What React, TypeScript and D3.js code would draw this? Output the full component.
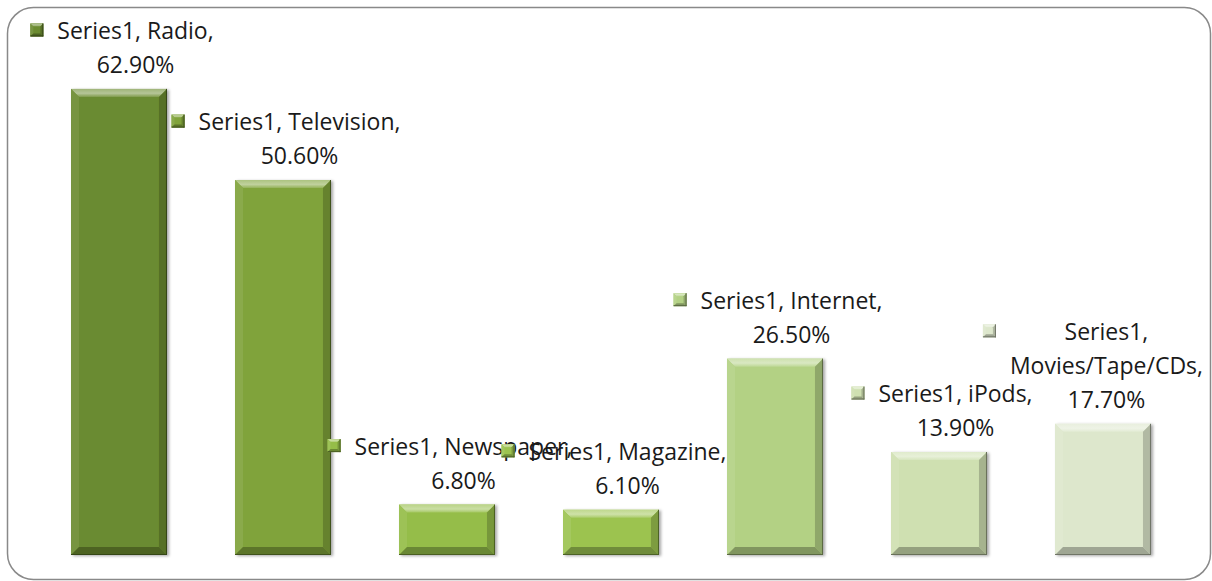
import React from "react";
import * as d3 from "d3";

const categories = ["Radio", "Television", "Newspaper", "Magazine", "Internet", "iPods", "Movies/Tape/CDs"];
const values = [62.9, 50.6, 6.8, 6.1, 26.5, 13.9, 17.7];
const seriesName = "Series1";
const barColors = ["#6b8b30", "#80a33b", "#95bd48", "#9cc350", "#b3d184", "#cfe0b1", "#dde7cc"];

const W = 1212;
const H = 581;
const FONT = '"Open Sans", "Noto Sans", sans-serif';
const FS = 23;
const LINE = 34;
const MARK = 13;
const MGAP = 14;

function measure(text: string): number {
  const c = document.createElement("canvas");
  const ctx = c.getContext("2d")!;
  ctx.font = `${FS}px ${FONT}`;
  return ctx.measureText(text).width;
}

function Bevel({ x, y, w, h, color, b, id }: { x: number; y: number; w: number; h: number; color: string; b: number; id: string }) {
  const c = d3.color(color)!;
  const light = d3.interpolateRgb(color, "#ffffff");
  const dark = d3.interpolateRgb(color, "#000000");
  const bb = Math.min(b, h / 2, w / 2);
  return (
    <g>
      <defs>
        <linearGradient id={`top-${id}`} x1="0" y1="0" x2="0" y2="1">
          <stop offset="0" stopColor={light(0.35)} />
          <stop offset="0.55" stopColor={light(0.5)} />
          <stop offset="1" stopColor={light(0.15)} />
        </linearGradient>
      </defs>
      <rect x={x} y={y} width={w} height={h} fill={c.formatHex()} />
      <polygon points={`${x},${y} ${x + w},${y} ${x + w - bb},${y + bb} ${x + bb},${y + bb}`} fill={`url(#top-${id})`} />
      <polygon points={`${x},${y} ${x + bb},${y + bb} ${x + bb},${y + h - bb} ${x},${y + h}`} fill={light(0.08)} />
      <polygon points={`${x + w},${y} ${x + w - bb},${y + bb} ${x + w - bb},${y + h - bb} ${x + w},${y + h}`} fill={dark(0.2)} />
      <polygon points={`${x},${y + h} ${x + bb},${y + h - bb} ${x + w - bb},${y + h - bb} ${x + w},${y + h}`} fill={dark(0.28)} />
      <line x1={x + w - 0.5} y1={y} x2={x + w - 0.5} y2={y + h} stroke={dark(0.5)} strokeWidth={1} />
      <line x1={x} y1={y + h - 0.5} x2={x + w} y2={y + h - 0.5} stroke={dark(0.5)} strokeWidth={1} />
    </g>
  );
}

export default function App() {
  const x = d3
    .scaleBand<string>()
    .domain(categories)
    .range([37, 1185])
    .paddingInner(0.415)
    .paddingOuter(0.2075);
  const y = d3.scaleLinear().domain([0, 70]).range([555, 555 - 70 * 7.41]);

  const labels = categories.map((cat, i) => {
    const first = `${seriesName}, ${cat},`;
    const valText = `${values[i].toFixed(2)}%`;
    let lines: string[];
    if (measure(first) > 240) lines = [`${seriesName},`, `${cat},`, valText];
    else lines = [first, valText];
    const tw = Math.max(...lines.map(measure));
    const blockW = MARK + MGAP + tw;
    const cx = (x(cat) ?? 0) + x.bandwidth() / 2 + 3;
    let left = cx - blockW / 2;
    if (left + blockW > 1203) left = 1203 - blockW;
    const top = y(values[i]);
    const lastY = top - 25;
    const firstY = lastY - (lines.length - 1) * LINE;
    return { lines, left, tw, firstY, i };
  });

  return (
    <svg width={W} height={H} style={{ position: "absolute", left: 0, top: 0, background: "#fff" }}>
      <defs>
        <filter id="shadow" x="-10%" y="-10%" width="130%" height="130%">
          <feDropShadow dx="2" dy="1" stdDeviation="1.6" floodColor="#000" floodOpacity="0.35" />
        </filter>
      </defs>
      <rect x={7.5} y={7.5} width={1203} height={572} rx={26} ry={26} fill="#fff" stroke="#898989" strokeWidth={1.5} />
      {categories.map((cat, i) => {
        const bx = x(cat) ?? 0;
        const by = y(values[i]);
        return (
          <g key={cat} filter="url(#shadow)">
            <Bevel x={bx} y={by} w={x.bandwidth()} h={y(0) - by} color={barColors[i]} b={8} id={`b${i}`} />
          </g>
        );
      })}
      {labels.map((l) => (
        <g key={l.i}>
          <Bevel x={l.left} y={l.firstY - MARK / 2} w={MARK} h={MARK} color={barColors[l.i]} b={3} id={`m${l.i}`} />
          {l.lines.map((t, k) => (
            <text
              key={k}
              x={l.left + MARK + MGAP + l.tw / 2}
              y={l.firstY + k * LINE}
              textAnchor="middle"
              dominantBaseline="central"
              fontFamily={FONT}
              fontSize={FS}
              fill="#1a1a1a"
            >
              {t}
            </text>
          ))}
        </g>
      ))}
    </svg>
  );
}
